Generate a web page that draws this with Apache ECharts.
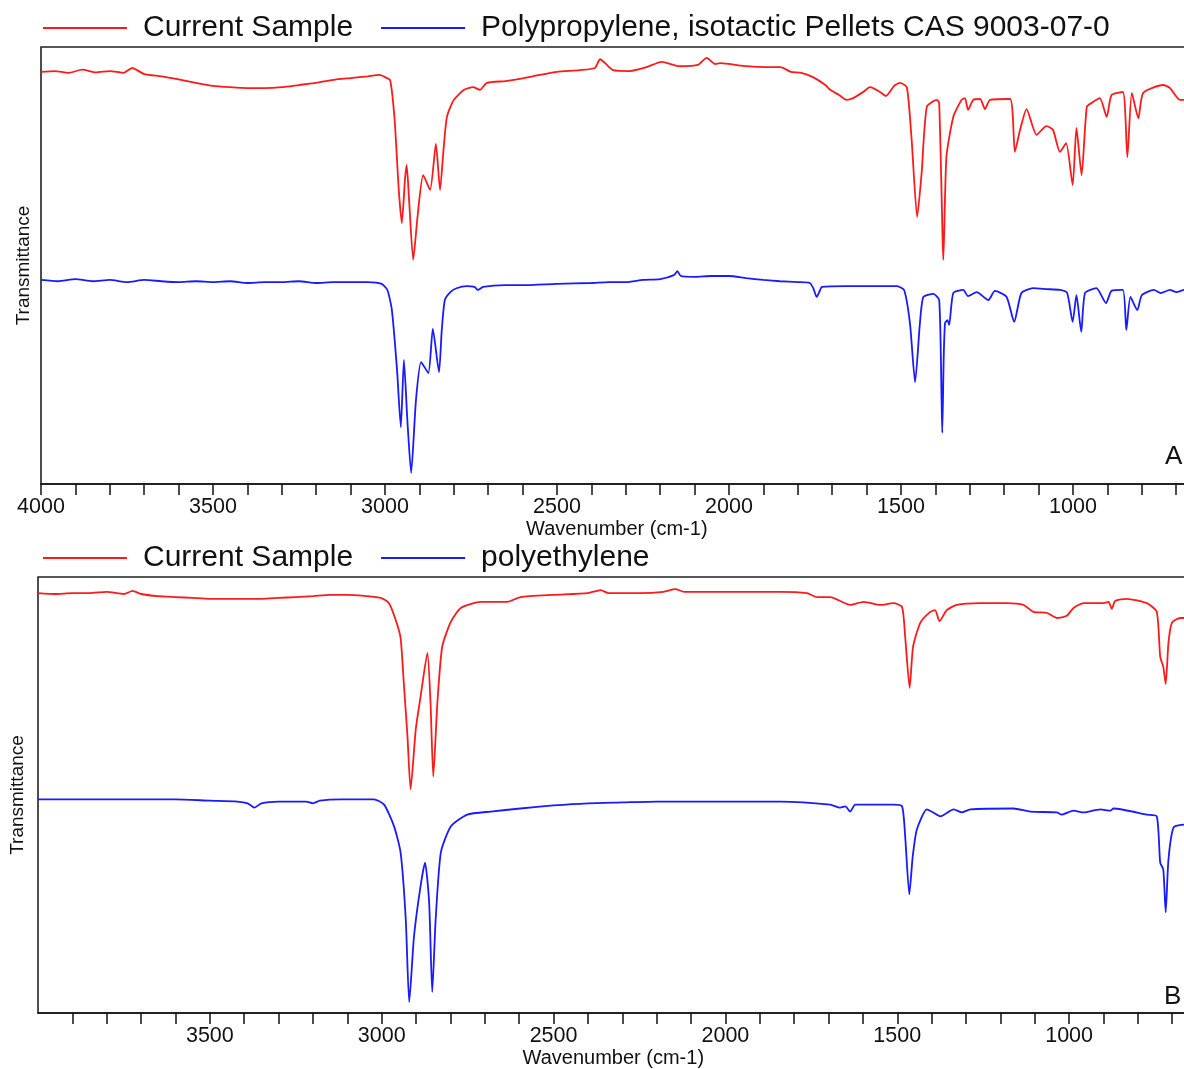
<!DOCTYPE html>
<html>
<head>
<meta charset="utf-8">
<title>FTIR spectra</title>
<script src="https://cdn.jsdelivr.net/npm/echarts@6.0.0/dist/echarts.min.js"></script>
<style>
  html, body { margin: 0; padding: 0; background: #fff; overflow: hidden; }
  #chart { width: 1230px; height: 1069px; }
</style>
</head>
<body>
<div id="chart"></div>
<script>
// Panel A: sample vs isotactic polypropylene
const redA_wn = [4000,3960,3920,3880,3840,3800,3760,3735,3700,3650,3600,3550,3500,3450,3400,3350,3300,3250,3200,3150,3100,3050,3015,3000,2985,2972,2960,2951,2942,2937,2930,2918,2905,2889,2869,2852,2840,2830,2820,2800,2770,2744,2724,2704,2650,2608,2550,2500,2433,2390,2375,2360,2337,2288,2239,2196,2142,2090,2065,2040,2026,1949,1890,1850,1820,1790,1756,1720,1706,1680,1658,1639,1610,1590,1561,1544,1520,1503,1483,1469,1453,1440,1425,1396,1389,1379,1377,1368,1348,1324,1314,1305,1290,1270,1256,1241,1183,1169,1154,1135,1106,1077,1058,1038,1020,1001,990,975,960,946,922,902,888,855,842,829,810,796,738,718,689,600]
const redA_t  = [94.3,94.5,94.1,94.8,94.2,94.5,94.1,95.2,93.8,93.3,92.6,91.8,91.1,90.8,90.6,90.6,90.8,91.3,91.8,92.5,92.9,93.3,93.6,93.1,92.4,83.3,67.3,59.7,69.6,73.0,65.0,51.3,61.5,70.7,67.3,77.8,67.3,76.4,84.0,87.9,90.2,90.8,90.2,91.8,92.2,92.7,93.6,94.3,94.7,95.2,97.2,96.3,94.7,94.5,95.4,96.6,95.6,95.9,97.5,96.1,96.3,95.6,95.4,95.4,94.3,94.1,93.1,91.3,90.2,89.0,87.9,88.3,89.7,90.8,89.7,88.8,91.1,91.8,90.8,78.7,61.1,71.2,86.3,87.9,87.2,55.8,51.3,74.8,84.0,87.9,88.3,85.6,87.9,88.1,85.8,87.9,88.1,76.0,81.0,85.8,79.9,81.9,81.0,76.0,78.0,68.4,81.5,70.7,86.3,87.2,88.3,84.0,89.0,89.7,74.8,89.5,83.7,89.5,91.3,90.6,87.9,87.9]

const blueA_wn = [4000,3950,3900,3850,3800,3750,3700,3650,3600,3550,3500,3450,3400,3350,3300,3250,3200,3150,3100,3050,3010,2993,2980,2965,2954,2945,2935,2924,2910,2895,2874,2861,2843,2835,2826,2810,2792,2763,2740,2730,2715,2650,2600,2500,2400,2350,2300,2250,2200,2160,2150,2140,2100,2050,2000,1950,1900,1852,1800,1765,1755,1745,1735,1730,1658,1513,1491,1474,1459,1445,1435,1406,1389,1382,1380,1376,1372,1365,1360,1348,1319,1305,1280,1246,1227,1193,1171,1150,1116,1077,1038,1017,1001,990,976,965,932,904,888,855,845,833,813,800,765,745,718,699,677,600]
const blueA_t  = [46.7,46.4,46.9,46.4,46.7,46.2,46.7,46.4,46.2,46.4,46.2,46.4,46.0,46.2,46.2,46.4,46.0,46.2,46.2,46.2,45.8,44.4,39.8,26.1,13.0,28.4,14.6,2.5,19.2,27.9,25.4,35.5,25.6,35.2,42.1,43.9,44.8,45.3,45.1,44.4,45.1,45.5,45.5,45.8,46.0,46.2,46.2,46.7,46.9,47.8,48.7,47.6,47.4,47.6,47.6,47.1,46.7,46.4,46.2,46.0,44.8,42.8,44.4,45.1,45.3,45.3,44.4,36.8,23.3,36.8,42.8,43.5,42.1,19.2,11.7,28.4,36.8,37.5,36.4,43.7,44.4,43.0,43.9,42.1,44.2,42.8,37.1,43.7,44.8,44.6,44.4,43.7,37.1,43.2,34.8,43.7,44.8,41.4,44.2,44.4,35.2,42.8,39.8,43.2,44.4,43.7,44.4,43.9,44.4,44.2]

// Panel B: sample vs polyethylene
const redB_wn = [4000,3950,3900,3850,3800,3750,3725,3700,3650,3600,3550,3500,3450,3400,3350,3300,3250,3200,3150,3100,3003,2979,2959,2945,2936,2925,2916,2901,2887,2867,2858,2850,2838,2824,2799,2770,2712,2635,2596,2500,2400,2363,2340,2250,2180,2146,2120,2000,1900,1840,1763,1733,1695,1637,1598,1549,1511,1486,1477,1464,1454,1433,1404,1390,1377,1356,1327,1259,1181,1133,1104,1065,1036,1007,987,958,900,885,876,866,832,774,745,735,726,719,711,701,677,600]
const redB_t  = [96.3,96.1,96.3,96.3,96.6,96.1,96.8,96.1,95.6,95.4,95.2,95.0,95.0,95.0,95.0,95.2,95.4,95.6,95.9,95.9,95.2,94.0,90.1,86.0,76.0,63.4,51.3,65.0,72.5,82.6,71.2,54.2,71.2,84.0,89.7,92.9,94.3,94.3,95.4,95.9,96.3,97.0,96.3,96.3,96.6,97.2,96.6,96.6,96.6,96.6,96.3,95.4,95.4,93.6,94.3,93.6,94.0,93.1,86.3,74.6,84.0,89.5,92.0,92.4,89.9,92.4,93.6,94.0,94.0,93.6,92.0,91.8,90.6,91.1,92.9,94.0,94.0,94.3,92.7,94.5,95.0,94.0,92.0,81.7,79.4,75.5,84.9,89.5,90.6,90.6]

const blueB_wn = [4000,3900,3800,3700,3600,3500,3420,3390,3370,3350,3300,3220,3200,3180,3119,3023,2993,2964,2945,2930,2920,2906,2887,2874,2862,2853,2843,2828,2799,2751,2683,2596,2500,2400,2300,2200,2100,2000,1900,1840,1695,1666,1651,1637,1622,1511,1486,1477,1465,1455,1443,1414,1395,1375,1336,1312,1288,1162,1113,1036,1022,987,958,909,880,871,774,745,735,726,719,711,696,666,600]
const blueB_t  = [49.0,49.0,49.0,49.0,49.0,48.7,48.5,48.1,47.1,48.1,48.5,48.5,48.1,48.7,49.0,49.0,47.8,42.8,36.8,21.5,2.5,17.6,29.1,34.5,25.4,4.8,21.5,36.8,42.8,45.5,46.2,46.9,47.6,48.1,48.3,48.5,48.5,48.5,48.5,48.5,47.8,47.1,47.4,46.2,47.8,47.8,47.4,40.5,27.2,35.9,42.1,46.7,46.0,45.1,46.7,46.0,46.7,46.9,46.2,46.0,45.5,46.4,46.0,46.7,46.4,46.9,45.5,45.1,34.5,32.9,23.1,35.2,42.6,43.2,43.2]

const TICKS_A  = [4000,3900,3800,3700,3600,3500,3400,3300,3200,3100,3000,2900,2800,2700,2600,2500,2400,2300,2200,2100,2000,1900,1800,1700,1600,1500,1400,1300,1200,1100,1000,900,800,700]
const TICKS_B  = TICKS_A.slice(1)
const LABELS_A = [4000,3500,3000,2500,2000,1500,1000]
const LABELS_B = [3500,3000,2500,2000,1500,1000]

const NAME_SAMPLE = 'Current Sample'
const NAME_PP = 'Polypropylene, isotactic Pellets CAS 9003-07-0'
const NAME_PE = 'polyethylene'

const RED  = '#ff1a1a'
const BLUE = '#1a1aff'
const FONT = 'Liberation Sans, Arial, sans-serif'

function zip(wn, t) { return wn.map((w, i) => [w, t[i]]) }

function xAxisFor(gridIndex, ticks, labels) {
  return {
    type: 'value', gridIndex, min: 600, max: 4000, interval: 100, inverse: true,
    name: 'Wavenumber (cm-1)', nameLocation: 'middle', nameGap: 35,
    nameTextStyle: { color: '#111', fontSize: 20, fontFamily: FONT, padding: [0, 18, 0, 0] },
    axisLine: { show: true, onZero: false, lineStyle: { color: '#111', width: 1.5 } },
    axisTick: { show: true, inside: false, length: 11, customValues: ticks, lineStyle: { color: '#111', width: 1.5 } },
    axisLabel: {
      show: true, margin: 12, color: '#111', fontSize: 21.5, fontFamily: FONT,
      customValues: labels,
      formatter: v => (labels.indexOf(v) >= 0 ? String(v) : ''),
    },
    splitLine: { show: false },
  }
}

function yAxisFor(gridIndex, gap) {
  return {
    type: 'value', gridIndex, min: 0, max: 100,
    name: 'Transmittance', nameLocation: 'middle', nameGap: gap,
    nameTextStyle: { color: '#111', fontSize: 19, fontFamily: FONT },
    axisLine: { show: false }, axisTick: { show: false },
    axisLabel: { show: false }, splitLine: { show: false },
  }
}

function lineSeries(name, data, color, idx) {
  return {
    type: 'line', name, data, xAxisIndex: idx, yAxisIndex: idx,
    symbol: 'none', smooth: 0.2, animation: false,
    lineStyle: { color, width: 1.8 }, itemStyle: { color },
  }
}

function legendFor(top, names) {
  return {
    top, left: 43, padding: 0, itemGap: 28, itemWidth: 84, itemHeight: 2, icon: 'rect',
    data: names, selectedMode: false,
    textStyle: { color: '#111', fontSize: 30, fontFamily: FONT, padding: [0, 0, 0, 11] },
  }
}

const chart = echarts.init(document.getElementById('chart'), null, { renderer: 'canvas' })

chart.setOption({
  backgroundColor: '#fff',
  animation: false,
  legend: [
    legendFor(13, [NAME_SAMPLE, NAME_PP]),
    legendFor(543, [NAME_SAMPLE, NAME_PE]),
  ],
  grid: [
    { left: 41, top: 47, width: 1169.6, height: 437, show: true, borderColor: '#222', borderWidth: 1.6 },
    { left: 37, top: 577, width: 1169.6, height: 437, show: true, borderColor: '#222', borderWidth: 1.6 },
  ],
  xAxis: [xAxisFor(0, TICKS_A, LABELS_A), xAxisFor(1, TICKS_B, LABELS_B)],
  yAxis: [yAxisFor(0, 8), yAxisFor(1, 11)],
  series: [
    lineSeries(NAME_SAMPLE, zip(redA_wn, redA_t), RED, 0),
    lineSeries(NAME_PP, zip(blueA_wn, blueA_t), BLUE, 0),
    lineSeries(NAME_SAMPLE, zip(redB_wn, redB_t), RED, 1),
    lineSeries(NAME_PE, zip(blueB_wn, blueB_t), BLUE, 1),
  ],
  graphic: [
    { type: 'text', left: 1165, top: 444, style: { text: 'A', fontSize: 26, fontFamily: FONT, fill: '#111' } },
    { type: 'text', left: 1164, top: 984, style: { text: 'B', fontSize: 26, fontFamily: FONT, fill: '#111' } },
  ],
})
</script>
</body>
</html>
